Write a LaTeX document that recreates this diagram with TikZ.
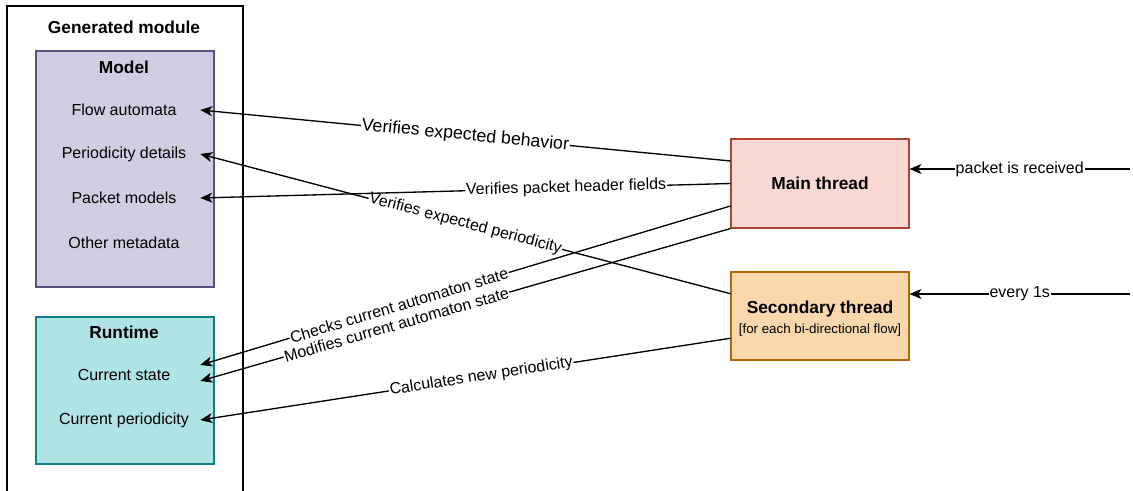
\documentclass[tikz,border=0pt]{standalone}
\usepackage{fontspec}
\setmainfont{Liberation Sans}
\usepackage{xcolor}
\usetikzlibrary{arrows.meta,calc}

\definecolor{modelfill}{HTML}{D0CEE2}
\definecolor{modeldraw}{HTML}{56517E}
\definecolor{runfill}{HTML}{B0E3E6}
\definecolor{rundraw}{HTML}{0E8088}
\definecolor{mainfill}{HTML}{FAD9D5}
\definecolor{maindraw}{HTML}{AE4132}
\definecolor{secfill}{HTML}{FAD7AC}
\definecolor{secdraw}{HTML}{B46504}

\begin{document}
\begin{tikzpicture}[x=0.75pt,y=-0.75pt,
      box/.style={draw,line width=0.8pt,inner sep=0pt},
      item/.style={minimum width=114pt,inner sep=0pt,font=\fontsize{12}{14}\selectfont},
      head/.style={font=\bfseries\fontsize{13}{15}\selectfont},
      flow/.style={draw=black,line width=1pt,-{Stealth[length=9pt,width=7.5pt,inset=2.5pt]}},
      lbl/.style={sloped,fill=white,inner sep=0.6pt,font=\fontsize{12}{14}\selectfont}]
    \useasboundingbox (0,0) rectangle (1133,491);
    % generated module
    \draw[line width=0.8pt] (7,500) -- (7,6) -- (243,6) -- (243,500);
    \node[head] (gen) at (124,27) {Generated module};
    \node[box,draw=modeldraw,fill=modelfill,minimum width=133.5pt,minimum height=177pt] (model) at (125,169) {};
    \node[box,draw=rundraw,fill=runfill,minimum width=133.5pt,minimum height=110.25pt] (runtime) at (125,390.5) {};
    \node[head] (modeltitle) at (124,67) {Model};
    \node[head] (runtitle) at (124,332) {Runtime};
    \foreach \name/\y/\txt in {fa/110/Flow automata,pd/154/Periodicity details,pm/198/Packet models,
        om/243/Other metadata,cs/375/Current state,cp/420/Current periodicity} {
      \node[item] (\name) at (124,\y) {\txt};
    }
    % threads
    \node[box,draw=maindraw,fill=mainfill,minimum width=133.5pt,minimum height=66.75pt,head] (main) at (820,183.5) {Main thread};
    \node[box,draw=secdraw,fill=secfill,minimum width=133.5pt,minimum height=66pt] (sec) at (820,316) {};
    \node[align=center,inner sep=0pt] (sectxt) at (820,318.5)
      {{\bfseries\fontsize{13}{15}\selectfont Secondary thread}\\[3.5pt]{\fontsize{10}{12}\selectfont [for each bi-directional flow]}};
    \foreach \f/\n in {0.25/1,0.5/2,0.75/3,1/4} {
      \coordinate (m\n) at ($(main.north west)!\f!(main.south west)$);
    }
    \coordinate (s1) at ($(sec.north west)!0.25!(sec.south west)$);
    \coordinate (s2) at ($(sec.north west)!0.75!(sec.south west)$);
    % connectors
    \draw[flow] (m1) -- node[lbl,pos=0.5,font=\fontsize{13.3}{15}\selectfont] {Verifies expected behavior} (fa.east);
    \draw[flow] (s1) -- node[lbl,pos=0.5] {Verifies expected periodicity} (pd.east);
    \draw[flow] (m2) -- node[lbl,pos=0.31] {Verifies packet header fields} (pm.east);
    \draw[flow] (m3) -- node[lbl,pos=0.625] {Checks current automaton state} ([yshift=7.5pt]cs.east);
    \draw[flow] (m4) -- node[lbl,pos=0.63] {Modifies current automaton state} ([yshift=-4.5pt]cs.east);
    \draw[flow] (s2) -- node[lbl,pos=0.47] {Calculates new periodicity} (cp.east);
    \coordinate (pkt) at (1130,169);
    \coordinate (tick) at (1130,294);
    \draw[flow] (pkt) -- node[lbl] {packet is received} (main.east |- pkt);
    \draw[flow] (tick) -- node[lbl] {every 1s} (sec.east |- tick);
  \end{tikzpicture}
\end{document}
